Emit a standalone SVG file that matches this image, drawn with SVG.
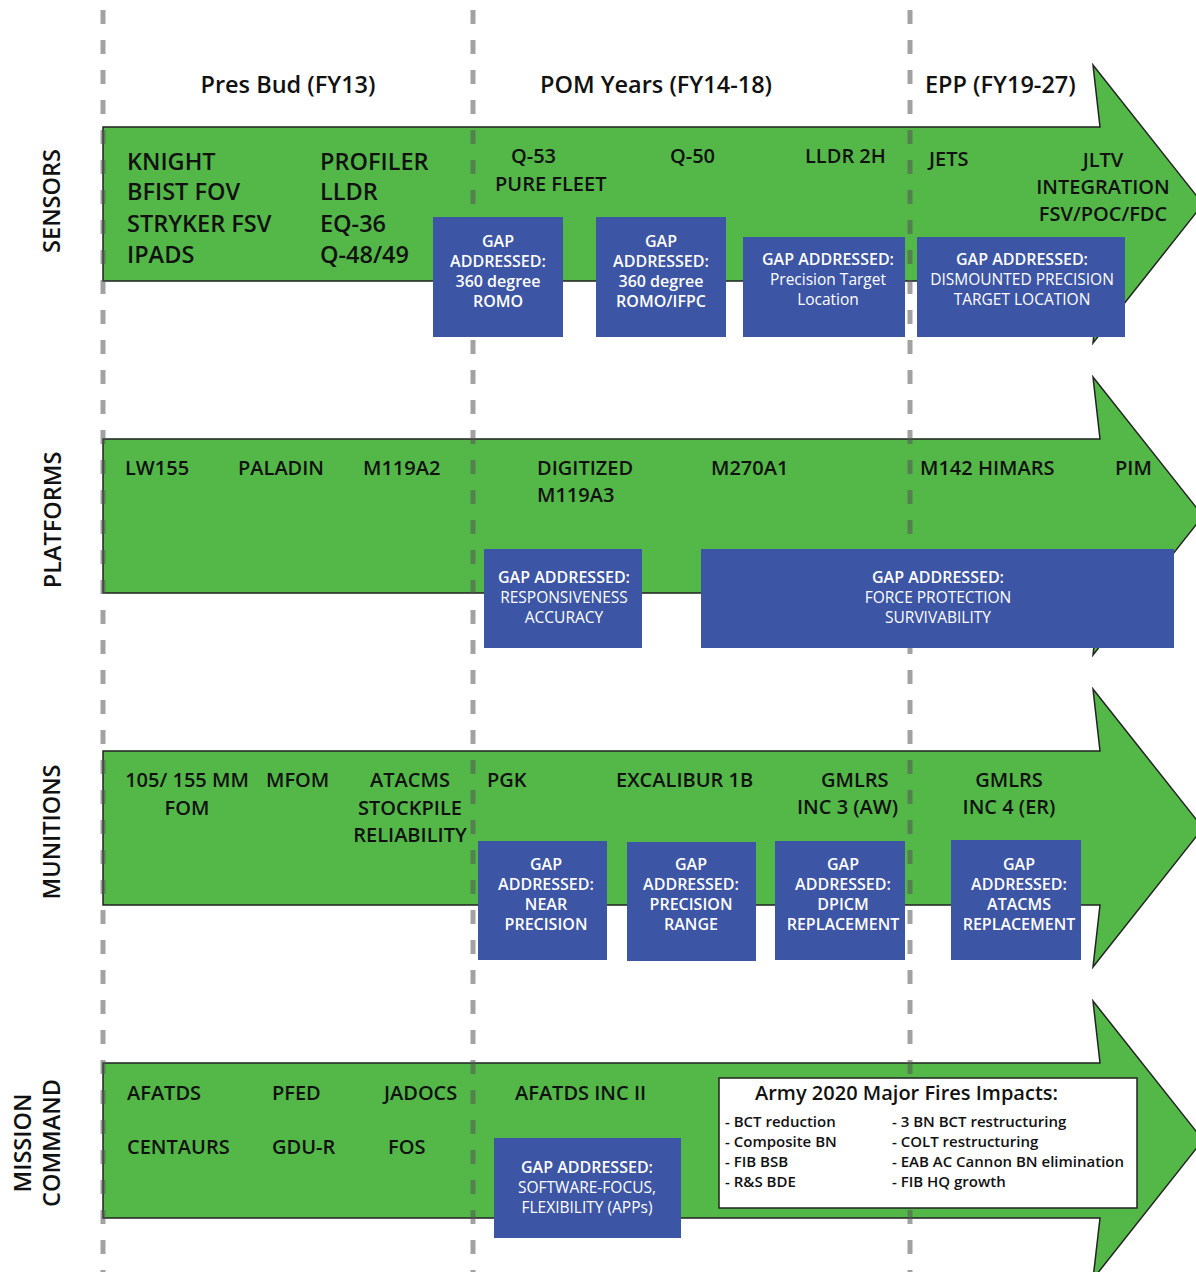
<svg xmlns="http://www.w3.org/2000/svg" width="1196" height="1272" viewBox="0 0 1196 1272">
<style>
text{font-family:'Open Sans','Noto Sans','Liberation Sans',sans-serif}
.arrow{fill:#53b848;stroke:#222;stroke-width:1.5}
.hdr{font-size:23.5px;font-weight:600;fill:#111}
.big{font-size:23.5px;font-weight:600;fill:#111}
.mid{font-size:20px;font-weight:600;fill:#111}
.row{font-size:23.5px;font-weight:600;fill:#111;text-anchor:middle}
.box{fill:#3c55a5}
.gb{font-size:16px;font-weight:600;fill:#fff;text-anchor:middle}
.gr{font-size:15.5px;font-weight:400;fill:#fff;text-anchor:middle}
.mc{text-anchor:middle}
.lst{font-size:15px;font-weight:600;fill:#111}
.ttl{font-size:20px;font-weight:600;fill:#111}
.div{stroke:#555;stroke-opacity:0.55;stroke-width:5;stroke-dasharray:14 16;fill:none}
</style>

<g id="headers">
<text class="hdr" x="288" y="93" text-anchor="middle">Pres Bud (FY13)</text>
<text class="hdr" x="656" y="93" text-anchor="middle">POM Years (FY14-18)</text>
<text class="hdr" x="925" y="93">EPP (FY19-27)</text>
</g>

<g id="row-labels">
<text class="row" transform="translate(60,201) rotate(-90)">SENSORS</text>
<text class="row" transform="translate(61,520) rotate(-90)">PLATFORMS</text>
<text class="row" transform="translate(60,832) rotate(-90)">MUNITIONS</text>
<text class="row" transform="translate(31,1143) rotate(-90)">MISSION</text>
<text class="row" transform="translate(60,1143) rotate(-90)">COMMAND</text>
</g>

<g id="arrows">
<path id="arrow-sensors" class="arrow" d="M103,127 H1100 L1093,65 L1203,204 L1093,343 L1100,281 H103 Z"/>
<path id="arrow-platforms" class="arrow" d="M103,439 H1100 L1093,377 L1203,516 L1093,655 L1100,593 H103 Z"/>
<path id="arrow-munitions" class="arrow" d="M103,751 H1100 L1093,689 L1203,828 L1093,967 L1100,905 H103 Z"/>
<path id="arrow-mission" class="arrow" d="M103,1063 H1100 L1093,1001 L1203,1140 L1093,1279 L1100,1218 H103 Z"/>
</g>

<g id="connectors">
<line class="div" x1="103" y1="10" x2="103" y2="1272"/>
<line class="div" x1="473" y1="10" x2="473" y2="1272"/>
<line class="div" x1="910" y1="10" x2="910" y2="1272"/>
</g>

<g id="sensors-items">
<text class="big" x="127" y="170">KNIGHT</text>
<text class="big" x="127" y="200">BFIST FOV</text>
<text class="big" x="127" y="231.5">STRYKER FSV</text>
<text class="big" x="127" y="263">IPADS</text>
<text class="big" x="320" y="170">PROFILER</text>
<text class="big" x="320" y="200">LLDR</text>
<text class="big" x="320" y="231.5">EQ-36</text>
<text class="big" x="320" y="263">Q-48/49</text>
<text class="mid" x="511" y="163">Q-53</text>
<text class="mid" x="495" y="191">PURE FLEET</text>
<text class="mid" x="670" y="163">Q-50</text>
<text class="mid" x="805" y="163">LLDR 2H</text>
<text class="mid" x="929" y="166">JETS</text>
<text class="mid mc" x="1103" y="167">JLTV</text>
<text class="mid mc" x="1103" y="194">INTEGRATION</text>
<text class="mid mc" x="1103" y="221">FSV/POC/FDC</text>
</g>

<g id="gap-sensors-1">
<rect class="box" x="433" y="217" width="130" height="120"/>
<text class="gb" x="498" y="247">GAP</text>
<text class="gb" x="498" y="267">ADDRESSED:</text>
<text class="gb" x="498" y="287">360 degree</text>
<text class="gb" x="498" y="307">ROMO</text>
</g>
<g id="gap-sensors-2">
<rect class="box" x="596" y="217" width="130" height="120"/>
<text class="gb" x="661" y="247">GAP</text>
<text class="gb" x="661" y="267">ADDRESSED:</text>
<text class="gb" x="661" y="287">360 degree</text>
<text class="gb" x="661" y="307">ROMO/IFPC</text>
</g>
<g id="gap-sensors-3">
<rect class="box" x="743" y="237" width="162" height="100"/>
<text class="gb" x="828" y="265">GAP ADDRESSED:</text>
<text class="gr" x="828" y="285">Precision Target</text>
<text class="gr" x="828" y="305">Location</text>
</g>
<g id="gap-sensors-4">
<rect class="box" x="917" y="237" width="208" height="100"/>
<text class="gb" x="1022" y="265">GAP ADDRESSED:</text>
<text class="gr" x="1022" y="285">DISMOUNTED PRECISION</text>
<text class="gr" x="1022" y="305">TARGET LOCATION</text>
</g>

<g id="platforms-items">
<text class="mid" x="125" y="475">LW155</text>
<text class="mid" x="238" y="475">PALADIN</text>
<text class="mid" x="363" y="475">M119A2</text>
<text class="mid" x="537" y="475">DIGITIZED</text>
<text class="mid" x="537" y="502">M119A3</text>
<text class="mid" x="711" y="475">M270A1</text>
<text class="mid" x="920" y="475">M142 HIMARS</text>
<text class="mid" x="1115" y="475">PIM</text>
</g>

<g id="gap-platforms-1">
<rect class="box" x="484" y="549" width="158" height="99"/>
<text class="gb" x="564" y="583">GAP ADDRESSED:</text>
<text class="gr" x="564" y="603">RESPONSIVENESS</text>
<text class="gr" x="564" y="623">ACCURACY</text>
</g>
<g id="gap-platforms-2">
<rect class="box" x="701" y="549" width="473" height="99"/>
<text class="gb" x="938" y="583">GAP ADDRESSED:</text>
<text class="gr" x="938" y="603">FORCE PROTECTION</text>
<text class="gr" x="938" y="623">SURVIVABILITY</text>
</g>

<g id="munitions-items">
<text class="mid mc" x="187" y="787">105/ 155 MM</text>
<text class="mid mc" x="187" y="815">FOM</text>
<text class="mid" x="266" y="787">MFOM</text>
<text class="mid mc" x="410" y="787">ATACMS</text>
<text class="mid mc" x="410" y="815">STOCKPILE</text>
<text class="mid mc" x="410" y="842">RELIABILITY</text>
<text class="mid" x="487" y="787">PGK</text>
<text class="mid" x="616" y="787">EXCALIBUR 1B</text>
<text class="mid" x="821" y="787">GMLRS</text>
<text class="mid" x="797" y="814">INC 3 (AW)</text>
<text class="mid mc" x="1009" y="787">GMLRS</text>
<text class="mid mc" x="1009" y="814">INC 4 (ER)</text>
</g>

<g id="gap-munitions-1">
<rect class="box" x="478" y="841" width="129" height="119"/>
<text class="gb" x="546" y="870">GAP</text>
<text class="gb" x="546" y="890">ADDRESSED:</text>
<text class="gb" x="546" y="910">NEAR</text>
<text class="gb" x="546" y="930">PRECISION</text>
</g>
<g id="gap-munitions-2">
<rect class="box" x="627" y="842" width="129" height="119"/>
<text class="gb" x="691" y="870">GAP</text>
<text class="gb" x="691" y="890">ADDRESSED:</text>
<text class="gb" x="691" y="910">PRECISION</text>
<text class="gb" x="691" y="930">RANGE</text>
</g>
<g id="gap-munitions-3">
<rect class="box" x="775" y="841" width="130" height="119"/>
<text class="gb" x="843" y="870">GAP</text>
<text class="gb" x="843" y="890">ADDRESSED:</text>
<text class="gb" x="843" y="910">DPICM</text>
<text class="gb" x="843" y="930">REPLACEMENT</text>
</g>
<g id="gap-munitions-4">
<rect class="box" x="951" y="840" width="130" height="120"/>
<text class="gb" x="1019" y="870">GAP</text>
<text class="gb" x="1019" y="890">ADDRESSED:</text>
<text class="gb" x="1019" y="910">ATACMS</text>
<text class="gb" x="1019" y="930">REPLACEMENT</text>
</g>

<g id="mission-items">
<text class="mid" x="127" y="1100">AFATDS</text>
<text class="mid" x="272" y="1100">PFED</text>
<text class="mid" x="384" y="1100">JADOCS</text>
<text class="mid" x="127" y="1154">CENTAURS</text>
<text class="mid" x="272" y="1154">GDU-R</text>
<text class="mid" x="388" y="1154">FOS</text>
<text class="mid" x="515" y="1100">AFATDS INC II</text>
</g>

<g id="gap-mission-1">
<rect class="box" x="494" y="1138" width="187" height="100"/>
<text class="gb" x="587" y="1173">GAP ADDRESSED:</text>
<text class="gr" x="587" y="1193">SOFTWARE-FOCUS,</text>
<text class="gr" x="587" y="1213">FLEXIBILITY (APPs)</text>
</g>

<g id="army-2020-impacts">
<rect x="719" y="1078" width="418" height="130" fill="#fff" stroke="#222" stroke-width="1.5"/>
<text class="ttl" x="755" y="1100">Army 2020 Major Fires Impacts:</text>
<text class="lst" x="725" y="1127">- BCT reduction</text>
<text class="lst" x="725" y="1147">- Composite BN</text>
<text class="lst" x="725" y="1167">- FIB BSB</text>
<text class="lst" x="725" y="1187">- R&amp;S BDE</text>
<text class="lst" x="892" y="1127">- 3 BN BCT restructuring</text>
<text class="lst" x="892" y="1147">- COLT restructuring</text>
<text class="lst" x="892" y="1167">- EAB AC Cannon BN elimination</text>
<text class="lst" x="892" y="1187">- FIB HQ growth</text>
</g>
</svg>
